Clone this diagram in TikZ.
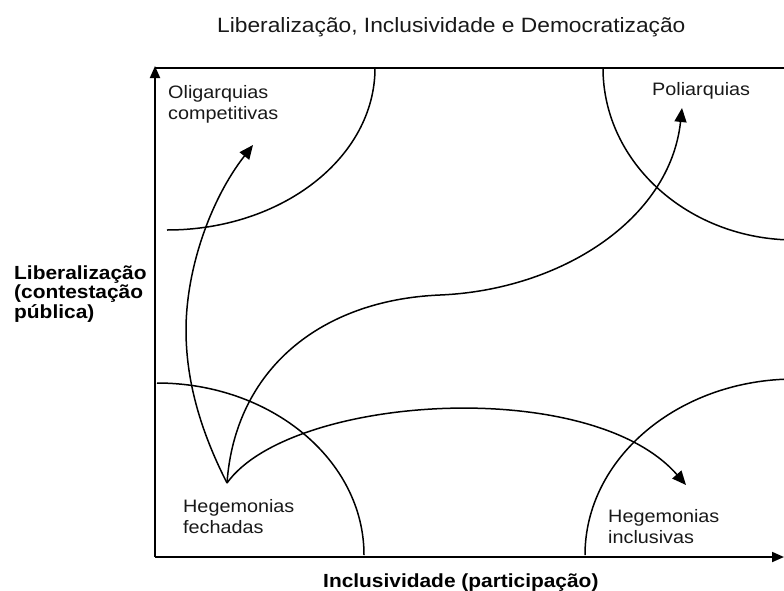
\documentclass[tikz,border=0pt]{standalone}
\usepackage{fontspec}
\setmainfont{Liberation Sans}[FakeStretch=1.1]
\usetikzlibrary{arrows.meta}
\begin{document}
\begin{tikzpicture}[x=1pt,y=-1pt,
  curve/.style={line width=1.5pt, black},
  axisline/.style={line width=1.8pt, black},
  tipc/.style={-{Triangle[length=14pt,width=12pt]}},
  tipa/.style={-{Triangle[length=12pt,width=10pt]}},
  lab/.style={font=\fontsize{18}{20.5}\selectfont, align=left, inner sep=0pt, anchor=base west, text=black!90},
  blab/.style={font=\bfseries\fontsize{19}{19.5}\selectfont, align=left, inner sep=0pt, anchor=base west, text=black},
  ttl/.style={font=\fontsize{20.7}{24}\selectfont, inner sep=0pt, anchor=base west, text=black!90}]
\useasboundingbox[fill=white] (0,0) rectangle (784,590);
\begin{scope}
\clip (0,0) rectangle (784,590);
% frame and axes
\coordinate (O) at (155,557);
\coordinate (Ytop) at (155,66);
\coordinate (Xend) at (784,557);
\coordinate (TL) at (155,68);
\coordinate (TR) at (790,68);
\draw[axisline] (TL) -- (TR);
\draw[axisline,tipa] (O) -- (Ytop);
\draw[axisline,tipa] (O) -- (Xend);
% quarter ellipses
\draw[curve] (167,230) .. controls (282,230) and (375,157.5) .. (375,68);
\draw[curve] (603,68) .. controls (603,163) and (689,240) .. (795,240);
\draw[curve] (157,383) .. controls (271,383) and (364,460) .. (364,555);
\draw[curve] (585,555) .. controls (585,458) and (679,379) .. (795,379);
\end{scope}
% transitions
\coordinate (H) at (227,483);
\coordinate (tO) at (253,145);
\coordinate (tP) at (682,108);
\coordinate (tI) at (686,485);
\draw[curve,tipc] (H) .. controls (200,430) and (186,380) .. (186,330) .. controls (186,270) and (210,200) .. (tO);
\draw[curve,tipc] (H) .. controls (235,370) and (320,300) .. (440,295) .. controls (560,290) and (670,220) .. (tP);
\draw[curve,tipc] (H) .. controls (290,395) and (590,375) .. (tI);
% labels
\node[ttl] (title) at (217,32) {Liberalização, Inclusividade e Democratização};
\node[lab] (olig) at (168,119) {Oligarquias\\competitivas};
\node[lab] (poli) at (652,95) {Poliarquias};
\node[lab] (hegf) at (183,533) {Hegemonias\\fechadas};
\node[lab] (hegi) at (608,543) {Hegemonias\\inclusivas};
\node[blab] (ylab) at (14,318) {Liberalização\\(contestação\\pública)};
\node[blab] (xlab) at (323,587) {Inclusividade (participação)};
\end{tikzpicture}
\end{document}
